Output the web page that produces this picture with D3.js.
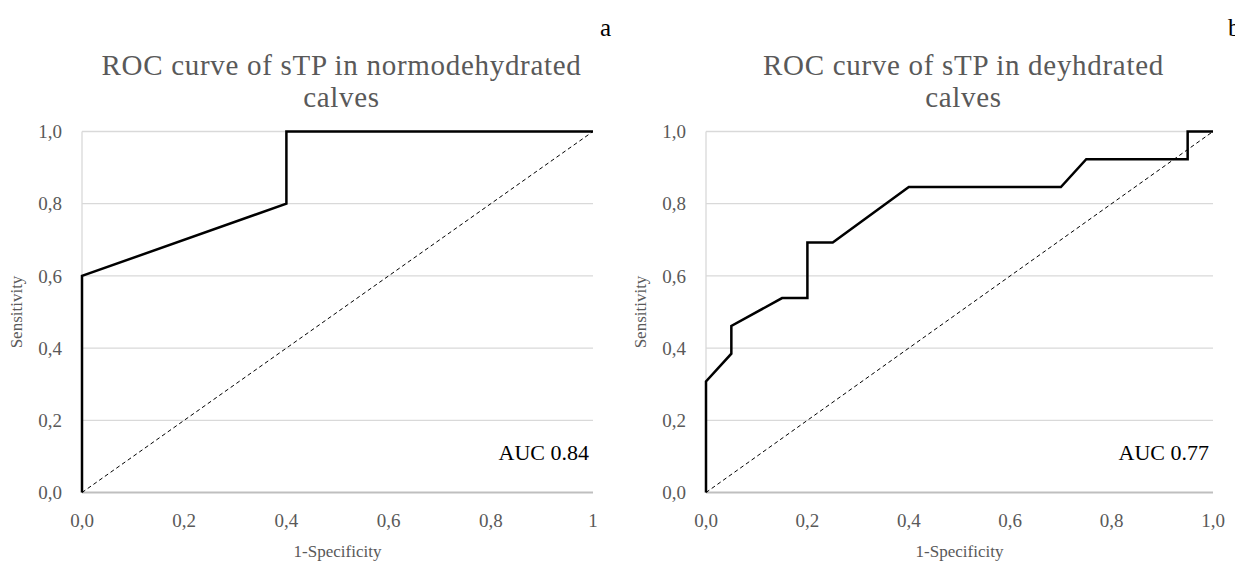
<!DOCTYPE html>
<html>
<head>
<meta charset="utf-8">
<title>ROC curves of sTP</title>
<script src="https://cdn.jsdelivr.net/npm/d3@7"></script>
<style>
    body { margin: 0; background: #fff; }
    text { font-family: "Liberation Serif", "Times New Roman", serif; }
    .grid line { stroke: #d9d9d9; stroke-width: 1.3; }
    .tick-label { fill: #595959; font-size: 19px; }
    .axis-title { fill: #595959; font-size: 17px; }
    .chart-title { fill: #595959; font-size: 29px; letter-spacing: 0.7px; }
</style>
</head>
<body>
<script>
// ---- data ----
var yTicks = [0, 0.2, 0.4, 0.6, 0.8, 1.0];
var xTicks = [0, 0.2, 0.4, 0.6, 0.8, 1.0];
var xTickLabelsA = ["0,0", "0,2", "0,4", "0,6", "0,8", "1"];
var xTickLabelsB = ["0,0", "0,2", "0,4", "0,6", "0,8", "1,0"];
var yTickLabels = ["0,0", "0,2", "0,4", "0,6", "0,8", "1,0"];

// chart a: normodehydrated (fpr, tpr)
var rocA_fpr = [0, 0, 0.4, 0.4, 1];
var rocA_tpr = [0, 0.6, 0.8, 1.0, 1.0];

// chart b: dehydrated (fpr, tpr)
var rocB_fpr = [0, 0, 0.05, 0.05, 0.15, 0.2, 0.2, 0.25, 0.4, 0.7, 0.75, 0.95, 0.95, 1];
var rocB_tpr = [0, 0.3077, 0.3846, 0.4615, 0.5385, 0.5385, 0.6923, 0.6923, 0.8462, 0.8462, 0.9231, 0.9231, 1.0, 1.0];

var diagonal = [0, 1];

var panels = [
    { title: ["ROC curve of sTP in normodehydrated", "calves"], letter: "a", auc: "AUC 0.84",
      fpr: rocA_fpr, tpr: rocA_tpr, xLabels: xTickLabelsA,
      left: 82, right: 593, letterX: 600 },
    { title: ["ROC curve of sTP in deyhdrated", "calves"], letter: "b", auc: "AUC 0.77",
      fpr: rocB_fpr, tpr: rocB_tpr, xLabels: xTickLabelsB,
      left: 706, right: 1213, letterX: 1228 }
];

var W = 1235, H = 566, plotTop = 131.5, plotBottom = 492.5;

var svg = d3.select("body").append("svg")
    .attr("width", W)
    .attr("height", H);

panels.forEach(function (p) {
    var x = d3.scaleLinear().domain([0, 1]).range([p.left, p.right]);
    var y = d3.scaleLinear().domain([0, 1]).range([plotBottom, plotTop]);
    var g = svg.append("g");

    // gridlines
    var grid = g.append("g").attr("class", "grid");
    grid.selectAll("line.h")
        .data(yTicks)
        .enter().append("line")
        .attr("class", "h")
        .attr("x1", p.left).attr("x2", p.right)
        .attr("y1", function (d) { return y(d); })
        .attr("y2", function (d) { return y(d); });
    grid.append("line")
        .attr("x1", p.left).attr("x2", p.left)
        .attr("y1", plotTop).attr("y2", plotBottom);
    grid.selectAll("line.h").filter(function (d) { return d === 0; })
        .style("stroke", "#bfbfbf").style("stroke-width", 2);

    // tick labels
    g.selectAll("text.ylab")
        .data(yTicks)
        .enter().append("text")
        .attr("class", "tick-label")
        .attr("x", p.left - 20)
        .attr("y", function (d) { return y(d); })
        .attr("dy", "0.35em")
        .attr("text-anchor", "end")
        .text(function (d, i) { return yTickLabels[i]; });

    g.selectAll("text.xlab")
        .data(xTicks)
        .enter().append("text")
        .attr("class", "tick-label")
        .attr("x", function (d) { return x(d); })
        .attr("y", plotBottom + 28)
        .attr("dy", "0.35em")
        .attr("text-anchor", "middle")
        .text(function (d, i) { return p.xLabels[i]; });

    // axis titles
    g.append("text")
        .attr("class", "axis-title")
        .attr("x", (p.left + p.right) / 2)
        .attr("y", plotBottom + 59)
        .attr("dy", "0.35em")
        .attr("text-anchor", "middle")
        .text("1-Specificity");

    g.append("text")
        .attr("class", "axis-title")
        .attr("transform", "translate(" + (p.left - 66) + "," + ((plotTop + plotBottom) / 2) + ") rotate(-90)")
        .attr("dy", "0.35em")
        .attr("text-anchor", "middle")
        .text("Sensitivity");

    // chart title
    g.selectAll("text.title")
        .data(p.title)
        .enter().append("text")
        .attr("class", "chart-title")
        .attr("x", (p.left + p.right) / 2 + 4)
        .attr("y", function (d, i) { return 65 + i * 32; })
        .attr("dy", "0.35em")
        .attr("text-anchor", "middle")
        .text(function (d) { return d; });

    // panel letter
    g.append("text")
        .attr("x", p.letterX)
        .attr("y", 27)
        .attr("dy", "0.35em")
        .style("font-size", "25px")
        .style("fill", "#000")
        .text(p.letter);

    // diagonal reference line
    var line = d3.line()
        .x(function (d) { return x(d[0]); })
        .y(function (d) { return y(d[1]); });

    g.append("path")
        .attr("d", line(diagonal.map(function (d) { return [d, d]; })))
        .attr("fill", "none")
        .attr("stroke", "#000")
        .attr("stroke-width", 1)
        .attr("stroke-dasharray", "4,3");

    // ROC curve
    var pts = p.fpr.map(function (f, i) { return [f, p.tpr[i]]; });
    g.append("path")
        .attr("d", line(pts))
        .attr("fill", "none")
        .attr("stroke", "#000")
        .attr("stroke-width", 2.5)
        .attr("stroke-linejoin", "miter");

    // AUC annotation
    g.append("text")
        .attr("x", p.right - 4)
        .attr("y", y(0.11))
        .attr("dy", "0.35em")
        .attr("text-anchor", "end")
        .style("font-size", "22px")
        .style("fill", "#000")
        .text(p.auc);
});
</script>
</body>
</html>
